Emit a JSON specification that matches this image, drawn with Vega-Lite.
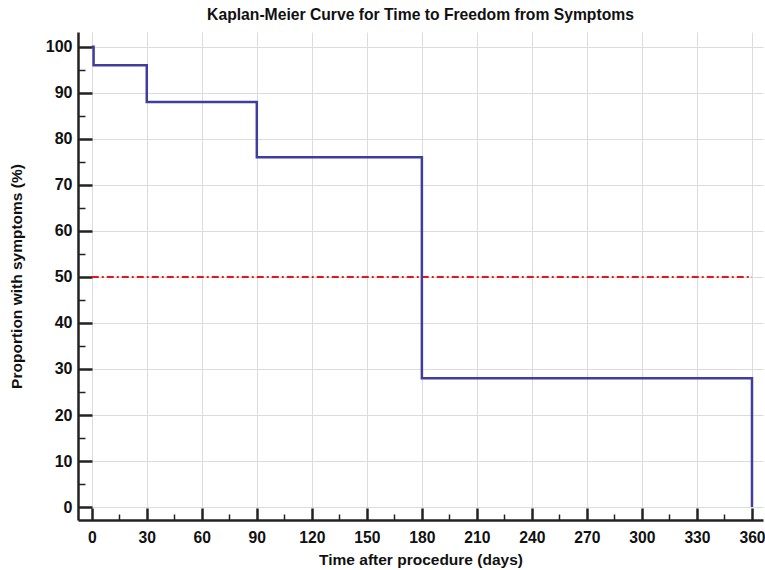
{
  "$schema": "https://vega.github.io/schema/vega-lite/v6.json",
  "autosize": {"type": "none"},
  "padding": {"left": 78, "top": 32, "right": 2, "bottom": 50},
  "width": 685,
  "height": 488,
  "background": "white",
  "config": {"view": {"stroke": null}, "font": "Liberation Sans"},
  "title": {"text": "Kaplan-Meier Curve for Time to Freedom from Symptoms", "fontSize": 15.7, "fontWeight": "bold", "color": "#111", "anchor": "middle", "offset": 8, "font": "Liberation Sans"},
  "datasets": {
    "km": [
      {"t": 0, "s": 100},
      {"t": 1, "s": 96},
      {"t": 30, "s": 88},
      {"t": 90, "s": 76},
      {"t": 180, "s": 28},
      {"t": 360, "s": 0}
    ],
    "median": [
      {"t": 0, "s": 50},
      {"t": 360, "s": 50}
    ]
  },
  "layer": [
    {
      "data": {"name": "median"},
      "mark": {"type": "line", "color": "#e8141c", "strokeWidth": 2, "strokeDash": [7, 3, 2, 3]},
      "encoding": {
        "x": {"field": "t", "type": "quantitative", "scale": {"domain": [-7.5, 366], "nice": false, "zero": false},
          "axis": {"orient": "bottom", "values": [15,45,75,105,135,165,195,225,255,285,315,345], "labels": false, "grid": false, "domain": false, "tickSize": -6, "tickWidth": 1.5, "tickColor": "#222", "title": null}},
        "y": {"field": "s", "type": "quantitative", "scale": {"domain": [-2.8, 103.2], "nice": false, "zero": false},
          "axis": {"orient": "left", "values": [5,15,25,35,45,55,65,75,85,95], "labels": false, "grid": false, "domain": false, "tickSize": -7, "tickWidth": 1.5, "tickColor": "#222", "title": null}}
      }
    },
    {
      "data": {"name": "km"},
      "mark": {"type": "line", "interpolate": "step-after", "color": "#3e3e9e", "strokeWidth": 2.5},
      "encoding": {
        "x": {"field": "t", "type": "quantitative", "scale": {"domain": [-7.5, 366], "nice": false, "zero": false},
          "axis": {"orient": "bottom", "values": [0,30,60,90,120,150,180,210,240,270,300,330,360], "grid": true, "gridColor": "#dcdcdc", "gridWidth": 1,
            "domainColor": "#222", "domainWidth": 2.5, "tickSize": -12, "tickWidth": 2.5, "tickColor": "#222",
            "labelFontSize": 15.7, "labelFontWeight": "bold", "labelColor": "#111", "labelPadding": 22, "labelFont": "Liberation Sans",
            "title": "Time after procedure (days)", "titleFontSize": 15.5, "titleFontWeight": "bold", "titleColor": "#111", "titlePadding": 8, "titleFont": "Liberation Sans"}},
        "y": {"field": "s", "type": "quantitative", "scale": {"domain": [-2.8, 103.2], "nice": false, "zero": false},
          "axis": {"orient": "left", "values": [0,10,20,30,40,50,60,70,80,90,100], "grid": true, "gridColor": "#dcdcdc", "gridWidth": 1,
            "domainColor": "#222", "domainWidth": 2.5, "tickSize": -14, "tickWidth": 2.5, "tickColor": "#222",
            "labelFontSize": 16, "labelFontWeight": "bold", "labelColor": "#111", "labelPadding": 20, "labelFont": "Liberation Sans",
            "title": "Proportion with symptoms (%)", "titleFontSize": 15.5, "titleFontWeight": "bold", "titleColor": "#111", "titlePadding": 21, "titleFont": "Liberation Sans"}}
      }
    }
  ],
  "resolve": {"axis": {"x": "independent", "y": "independent"}}
}
